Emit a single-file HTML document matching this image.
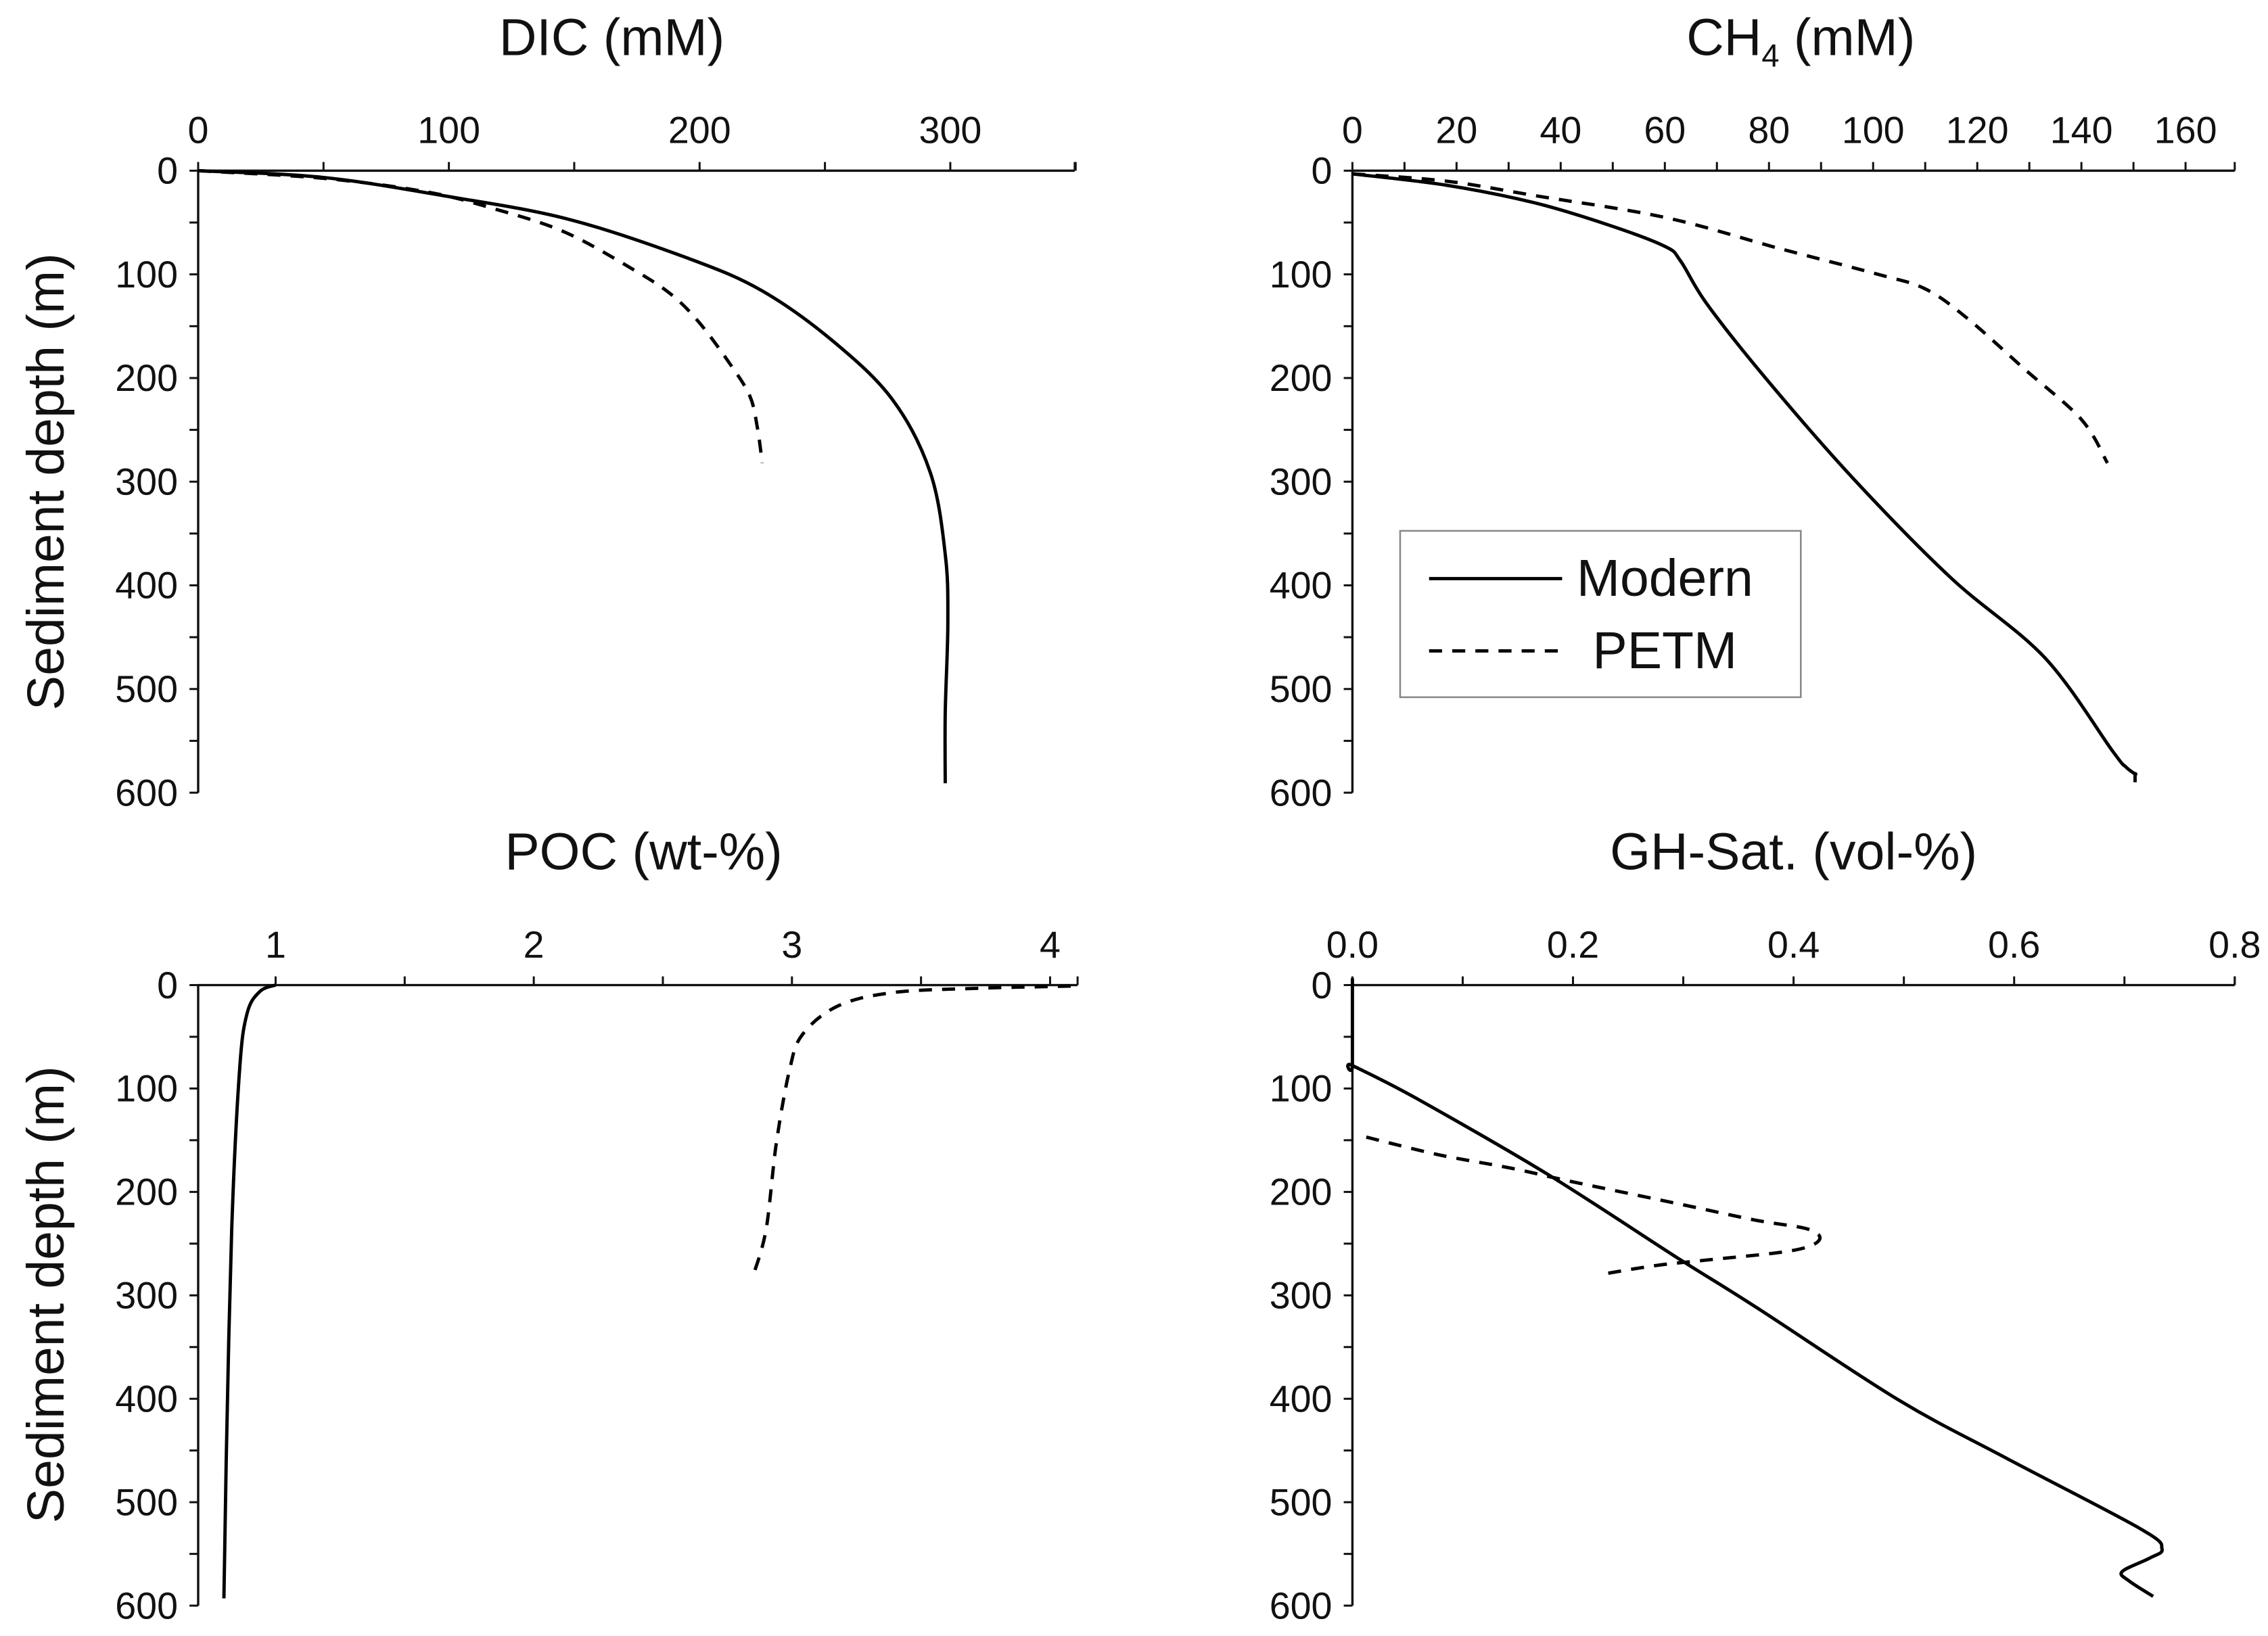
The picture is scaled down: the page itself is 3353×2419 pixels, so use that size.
<!DOCTYPE html>
<html><head><meta charset="utf-8"><style>
html,body{margin:0;padding:0;background:#fff;}
svg{display:block;}
text{font-family:"Liberation Sans",Arial,sans-serif;fill:#111;}
</style></head><body>
<svg id="fig" width="3353" height="2419" viewBox="0 0 1568 1131" preserveAspectRatio="none" xmlns="http://www.w3.org/2000/svg"></svg>
<script>
// ---- data (value, depth m) ----
const dicModernDepth = [0,6.6,25,47,85,116,164,221,291,370,436,523,591];
const dicModernX = [0,50,100,148,196,225,253,277,292,298,299,298,298];
const dicPetmDepth = [0,7.4,20,36,59,96,120,147,186,217,247,282];
const dicPetmX = [0,50,90,117,146,174,189,200,212,220,223,225];

const ch4ModernDepth = [3,14,31,52,73,87,128,198,296,393,470,560,575,582,582,590];
const ch4ModernX = [0,18,35,49,60,63,68,79,96,115,133,146,148.5,150.3,150.3,150.3];
const ch4PetmDepth = [3,10,24,45,75,100,114,142,191,240,282];
const ch4PetmX = [0,18,35,60,82,101,110,118,129,140,145];

const pocModernDepth = [0,6,27,83,236,446,593];
const pocModernX = [1.0,0.94,0.89,0.86,0.83,0.81,0.80];
const pocPetmDepth = [1,3,7,20,48,83,152,236,281];
const pocPetmX = [4.08,3.74,3.40,3.18,3.04,2.99,2.94,2.90,2.85];

const ghModernDepth = [0,0,77.7,77.7,109,183,266,310,401,458,526,545,554,567,576,591];
const ghModernX = [0,0,0,0,0.057,0.177,0.298,0.364,0.495,0.594,0.715,0.734,0.723,0.698,0.704,0.726];
const ghPetmDepth = [147,164,177,190,212,227,236,247,257,266,271,280];
const ghPetmX = [0.0126,0.078,0.144,0.199,0.298,0.364,0.413,0.423,0.397,0.320,0.276,0.224];

const dicTicks = ["0","100","200","300"];
const ch4Ticks = ["0","20","40","60","80","100","120","140","160"];
const pocTicks = ["1","2","3","4"];
const ghTicks = ["0.0","0.2","0.4","0.6","0.8"];
const depthTicks = ["0","100","200","300","400","500","600"];

const NS="http://www.w3.org/2000/svg";
const svg=document.getElementById('fig');
function mk(tag,attrs,parent){const e=document.createElementNS(NS,tag);for(const k in attrs)e.setAttribute(k,attrs[k]);(parent||svg).appendChild(e);return e;}

function smoothPath(P){
  let d='M'+P[0][0].toFixed(1)+','+P[0][1].toFixed(1);
  for(let i=0;i<P.length-1;i++){
    const p0=P[Math.max(0,i-1)],p1=P[i],p2=P[i+1],p3=P[Math.min(P.length-1,i+2)];
    const c1=[p1[0]+(p2[0]-p0[0])/6,p1[1]+(p2[1]-p0[1])/6];
    const c2=[p2[0]-(p3[0]-p1[0])/6,p2[1]-(p3[1]-p1[1])/6];
    d+=' C'+c1[0].toFixed(1)+','+c1[1].toFixed(1)+' '+c2[0].toFixed(1)+','+c2[1].toFixed(1)+' '+p2[0].toFixed(1)+','+p2[1].toFixed(1);
  }
  return d;
}

function panel(cfg){
  const g=mk('g',{});
  
  
  const xs=v=>cfg.x0+(v-cfg.vmin)/(cfg.vmax-cfg.vmin)*(cfg.x1-cfg.x0);
  const ys=d=>cfg.y0+d/600*(cfg.y1-cfg.y0);
  const ax=mk('line',{x1:cfg.x0,y1:cfg.y0,x2:cfg.xEnd,y2:cfg.y0,stroke:'#111','stroke-width':1.6},g);
  
  
  const ay=mk('line',{x1:cfg.x0,y1:cfg.y0,x2:cfg.x0,y2:cfg.y1,stroke:'#111','stroke-width':1.6},g);
  
  
  for(let v=cfg.tickStart; v<=cfg.vmaxAxis+1e-9; v+=cfg.minor){
    const x=xs(v); if(x<cfg.x0-0.5) continue;
    mk('line',{x1:x,y1:cfg.y0,x2:x,y2:cfg.y0-6,stroke:'#111','stroke-width':1.4},g);
  }
  mk('line',{x1:cfg.xEnd,y1:cfg.y0,x2:cfg.xEnd,y2:cfg.y0-6,stroke:'#111','stroke-width':1.4},g);
  cfg.ticks.forEach(t=>{
    const tx=mk('text',{x:xs(parseFloat(t)),y:cfg.y0-19,'font-size':26,'text-anchor':'middle'},g);
    tx.textContent=t;
    
    
  });
  for(let d=0; d<=600; d+=50){
    mk('line',{x1:cfg.x0,y1:ys(d),x2:cfg.x0-6,y2:ys(d),stroke:'#111','stroke-width':1.4},g);
  }
  depthTicks.forEach(t=>{
    const ty=mk('text',{x:cfg.x0-14,y:ys(parseFloat(t))+9,'font-size':26,'text-anchor':'end'},g);
    ty.textContent=t;
    
    
  });
  const ti=mk('text',{x:cfg.titleX,y:cfg.y0-80,'font-size':36,'text-anchor':'middle'},g);
  
  
  if(cfg.sub){
    ti.appendChild(document.createTextNode('CH'));
    const s=document.createElementNS(NS,'tspan');s.setAttribute('font-size','22');s.setAttribute('dy','8');s.textContent='4';ti.appendChild(s);
    const s2=document.createElementNS(NS,'tspan');s2.setAttribute('dy','-8');s2.textContent=' (mM)';ti.appendChild(s2);
  } else ti.textContent=cfg.title;
  function line(xv,dv,dash,nm){
    const P=xv.map((v,i)=>[xs(v),ys(dv[i])]);
    const p=mk('path',{d:smoothPath(P),fill:'none',stroke:'#000','stroke-width':2.3,'stroke-linejoin':'round'},g);
    if(dash) p.setAttribute('stroke-dasharray','9,7');
    
    
  }
  line(cfg.mx,cfg.md,false,'modern');
  line(cfg.px,cfg.pd,true,'petm');
}

panel({name:'dic',title:'DIC (mM)',x0:137,x1:657,vmin:0,vmax:300,xEnd:743,vmaxAxis:350,tickStart:0,minor:50,y0:118,y1:548,titleX:423,ticks:dicTicks,mx:dicModernX,md:dicModernDepth,px:dicPetmX,pd:dicPetmDepth});
panel({name:'ch4',sub:true,x0:935,x1:1511,vmin:0,vmax:160,xEnd:1545,vmaxAxis:169,tickStart:0,minor:10,y0:118,y1:548,titleX:1245,ticks:ch4Ticks,mx:ch4ModernX,md:ch4ModernDepth,px:ch4PetmX,pd:ch4PetmDepth});
panel({name:'poc',title:'POC (wt-%)',x0:137,x1:726,vmin:0.7,vmax:4,xEnd:745,vmaxAxis:4.1,tickStart:1,minor:0.5,y0:681,y1:1110,titleX:445,ticks:pocTicks,mx:pocModernX,md:pocModernDepth,px:pocPetmX,pd:pocPetmDepth});
panel({name:'gh',title:'GH-Sat. (vol-%)',x0:935,x1:1545,vmin:0,vmax:0.8,xEnd:1545,vmaxAxis:0.8,tickStart:0,minor:0.1,y0:681,y1:1110,titleX:1240,ticks:ghTicks,mx:ghModernX,md:ghModernDepth,px:ghPetmX,pd:ghPetmDepth});

[[333,'top'],[895,'bottom']].forEach(([cy,n])=>{
  const t=mk('text',{x:0,y:0,'font-size':36,'text-anchor':'middle',transform:`translate(44,${cy}) rotate(-90)`});
  t.textContent='Sediment depth (m)';
  
  
});

const lg=mk('g',{});


mk('rect',{x:968,y:367,width:277,height:115,fill:'#fff',stroke:'#888','stroke-width':1.2},lg);
mk('line',{x1:988,y1:400,x2:1080,y2:400,stroke:'#000','stroke-width':2.3},lg);
mk('line',{x1:988,y1:450,x2:1080,y2:450,stroke:'#000','stroke-width':2.3,'stroke-dasharray':'9,7'},lg);
const l1=mk('text',{x:1090,y:412,'font-size':36},lg);l1.textContent='Modern';


const l2=mk('text',{x:1101,y:462,'font-size':36},lg);l2.textContent='PETM';


</script>
</body></html>
